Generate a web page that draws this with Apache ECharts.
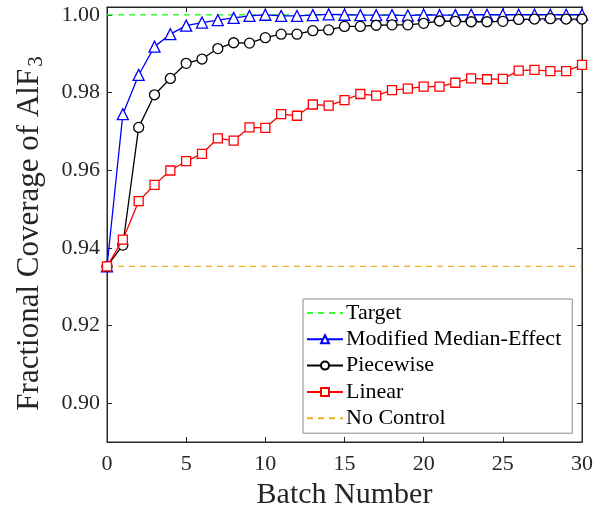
<!DOCTYPE html>
<html>
<head>
<meta charset="utf-8">
<script src="https://cdn.jsdelivr.net/npm/echarts@6/dist/echarts.min.js"></script>
<style>
  html, body { margin: 0; padding: 0; background: #fff; }
  #chart { width: 604px; height: 511px; }
</style>
</head>
<body>
<div id="chart"></div>
<script>
  // batch numbers
  const batches = [0,1,2,3,4,5,6,7,8,9,10,11,12,13,14,15,16,17,18,19,20,21,22,23,24,25,26,27,28,29,30];
  // Modified Median-Effect
  const mmeValues = [0.9352,0.9744,0.9845,0.9918,0.9950,0.9972,0.9980,0.9986,0.9992,0.9997,1.0000,
    0.9997,0.9997,0.9999,1.0001,1.0000,0.9999,0.9999,0.9999,0.9998,1.0000,0.9999,0.9999,
    1.0000,1.0000,1.0000,1.0000,1.0000,1.0000,1.0000,1.0000];
  // Piecewise
  const piecewiseValues = [0.9352,0.9407,0.9710,0.9794,0.9836,0.9875,0.9886,0.9913,0.9928,0.9927,0.9941,
    0.9950,0.9950,0.9959,0.9961,0.9970,0.9970,0.9973,0.9974,0.9974,0.9978,0.9984,0.9983,
    0.9982,0.9982,0.9983,0.9988,0.9989,0.9990,0.9989,0.9989];
  // Linear
  const linearValues = [0.9352,0.9421,0.9520,0.9562,0.9599,0.9623,0.9642,0.9682,0.9676,0.9710,0.9709,
    0.9744,0.9740,0.9769,0.9766,0.9780,0.9796,0.9792,0.9806,0.9810,0.9815,0.9815,0.9825,
    0.9836,0.9834,0.9835,0.9856,0.9858,0.9855,0.9855,0.9871];
  const targetValue = 1.0;
  const noControlValue = 0.9352;
  const yTicks = [0.90,0.92,0.94,0.96,0.98,1.00];

  const txt = '#262626';
  const font = "'Liberation Serif', 'Times New Roman', serif";
  const pairs = vals => batches.map((b,i)=>[b, vals[i]]);
  const flat = v => [[batches[0], v], [batches[batches.length-1], v]];

  let myChart = echarts.init(document.getElementById('chart'));
  const line = { show: true, onZero: false, lineStyle: { color: txt, width: 1 } };
  const tick = { show: true, inside: true, length: 5, lineStyle: { color: txt } };
  myChart.setOption({
    animation: false,
    textStyle: { fontFamily: font, color: txt },
    grid: { left: 107, right: 22, top: 7, bottom: 69, outerBoundsMode: 'none', containLabel: false,
      show: true, borderColor: txt, borderWidth: 1 },
    legend: {
      orient: 'vertical',
      left: 303,
      top: 299,
      padding: [3, 11, 4, 3],
      itemGap: 4.3,
      itemWidth: 36,
      itemHeight: 10,
      borderColor: '#8a8a8a',
      borderWidth: 1,
      backgroundColor: '#fff',
      textStyle: { fontFamily: font, fontSize: 22, color: '#000', padding: [0,0,0,-2] },
      data: [
        { name: 'Target', itemStyle: { opacity: 0 } },
        'Modified Median-Effect', 'Piecewise', 'Linear',
        { name: 'No Control', itemStyle: { opacity: 0 } }
      ]
    },
    xAxis: [
      {
        type: 'value', min: 0, max: 30, interval: 5, position: 'bottom',
        name: 'Batch Number', nameLocation: 'middle', nameGap: 36,
        nameTextStyle: { fontFamily: font, fontSize: 30, color: txt },
        axisLine: line, axisTick: tick, splitLine: { show: false },
        axisLabel: { fontFamily: font, fontSize: 22, color: txt, margin: 11 }
      },
      {
        type: 'value', min: 0, max: 30, interval: 5, position: 'top',
        axisLine: line, axisTick: tick, splitLine: { show: false },
        axisLabel: { show: false }
      }
    ],
    yAxis: [
      {
        type: 'value', min: 0.89, max: 1.002, position: 'left',
        name: 'Fractional Coverage of AlF{sub|3}', nameLocation: 'middle', nameGap: 60,
        nameTextStyle: { fontFamily: font, fontSize: 31, color: txt, padding: [0, 18, 0, 0],
          rich: { sub: { fontFamily: font, fontSize: 21, color: txt, verticalAlign: 'bottom', padding: [13,0,0,2] } } },
        axisLine: line, splitLine: { show: false },
        axisLabel: { fontFamily: font, fontSize: 22, color: txt, margin: 7,
          customValues: yTicks, formatter: v => v.toFixed(2) },
        axisTick: Object.assign({ customValues: yTicks }, tick)
      },
      {
        type: 'value', min: 0.89, max: 1.002, position: 'right',
        axisLine: line, splitLine: { show: false },
        axisLabel: { show: false, customValues: yTicks },
        axisTick: Object.assign({ customValues: yTicks }, tick)
      }
    ],
    series: [
      {
        name: 'Target', type: 'line', data: flat(targetValue), symbol: 'none',
        lineStyle: { color: '#33ff33', width: 1.5, type: [6, 5] },
        itemStyle: { color: '#33ff33' }, z: 1
      },
      {
        name: 'No Control', type: 'line', data: flat(noControlValue), symbol: 'none',
        lineStyle: { color: '#EDB120', width: 1.2, type: [6, 5] },
        itemStyle: { color: '#EDB120' }, z: 1
      },
      {
        name: 'Modified Median-Effect', type: 'line', data: pairs(mmeValues),
        symbol: 'triangle', symbolSize: 11,
        lineStyle: { color: '#0000ff', width: 1.3 },
        itemStyle: { color: '#fff', borderColor: '#0000ff', borderWidth: 1.3 }, z: 3
      },
      {
        name: 'Piecewise', type: 'line', data: pairs(piecewiseValues),
        symbol: 'circle', symbolSize: 10,
        lineStyle: { color: '#000', width: 1.3 },
        itemStyle: { color: '#fff', borderColor: '#000', borderWidth: 1.3 }, z: 4
      },
      {
        name: 'Linear', type: 'line', data: pairs(linearValues),
        symbol: 'rect', symbolSize: 9,
        lineStyle: { color: '#ff0000', width: 1.3 },
        itemStyle: { color: '#fff', borderColor: '#ff0000', borderWidth: 1.3 }, z: 5
      }
    ]
  });
</script>
</body>
</html>
